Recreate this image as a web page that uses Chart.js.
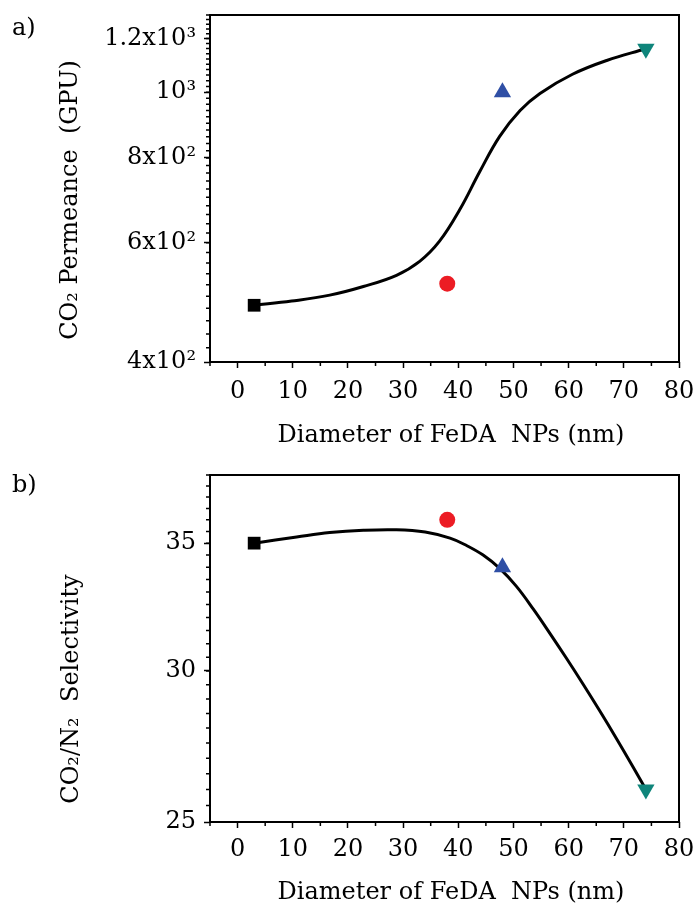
<!DOCTYPE html>
<html>
<head>
<meta charset="utf-8">
<script src="https://cdn.jsdelivr.net/npm/chart.js@4.4.0/dist/chart.umd.min.js"></script>
<style>
  html, body { margin: 0; padding: 0; background: #fff; }
  #wrap { position: relative; width: 698px; height: 903px; }
  canvas { position: absolute; left: 0; }
</style>
</head>
<body>
<div id="wrap">
  <canvas id="permCanvas" width="698" height="452" style="top:0"></canvas>
  <canvas id="selCanvas" width="698" height="451" style="top:452px"></canvas>
</div>
<script>
// measured samples (diameter in nm)
const diameters = [3, 38, 48, 74];
const permeance = [485, 522, 1000, 1159];
const selectivity = [35.0, 36.0, 34.0, 26.0];

// fitted guide curves
const permFitX = [3, 9.8, 16.7, 22.8, 28.8, 33.0, 36.6, 40.3, 43.9, 47.5, 51.2, 54.8, 60.7, 66.9, 74];
const permFitY = [485, 492, 502, 517, 537, 563, 603, 672, 764, 861, 940, 996, 1063, 1114, 1159];
const selFitX = [3, 10.7, 16.7, 22.8, 28.8, 34, 38.5, 41.5, 44.5, 47.5, 50.5, 53.6, 56.6, 59.6, 62.6, 65.6, 68.6, 71.7, 74];
const selFitY = [35.0, 35.26, 35.45, 35.55, 35.57, 35.47, 35.21, 34.90, 34.50, 33.95, 33.23, 32.32, 31.39, 30.46, 29.53, 28.60, 27.67, 26.71, 26.0];

// axis ticks
const xTicks = [0, 10, 20, 30, 40, 50, 60, 70, 80];
const xMinor = [-5, 5, 15, 25, 35, 45, 55, 65, 75];
const permTicks = [400, 600, 800, 1000, 1200];
const permTickLabels = ['4x10²', '6x10²', '8x10²', '10³', '1.2x10³'];
const selTicks = [25, 30, 35];
const selTickLabels = ['25', '30', '35'];

const permMinor = [];
for (let v = 420; v <= 1300; v += 20) permMinor.push(v);
const selMinor = [];
for (let v = 25.5; v <= 38; v += 0.5) selMinor.push(v);

const markerStyle = ['rect', 'circle', 'triangle', 'triangle'];
const markerRotation = [0, 0, 0, 180];
const markerColors = ['#000000', '#ec1c24', '#2f4fa5', '#0f857b'];
const markerRadius = [9, 8, 10, 10];

const FONT = '"DejaVu Serif", serif';

function toPoints(xs, ys) {
  return xs.map((x, i) => ({ x: x, y: ys[i] }));
}

function framePlugin(o) {
  return {
    id: 'frame',
    afterDraw(chart) {
      const ctx = chart.ctx;
      const a = chart.chartArea;
      const sx = chart.scales.x, sy = chart.scales.y;
      ctx.save();
      ctx.strokeStyle = '#000';
      ctx.lineWidth = 2;
      ctx.strokeRect(a.left, a.top, a.right - a.left, a.bottom - a.top);
      ctx.lineWidth = 1.5;
      ctx.beginPath();
      o.xMinor.forEach(v => {
        const x = sx.getPixelForValue(v);
        ctx.moveTo(x, a.bottom);
        ctx.lineTo(x, a.bottom + 4);
      });
      o.yMinor.forEach(v => {
        const y = sy.getPixelForValue(v);
        if (y < a.top - 0.5) return;
        ctx.moveTo(a.left, y);
        ctx.lineTo(a.left - 4, y);
      });
      ctx.stroke();

      ctx.fillStyle = '#000';
      ctx.font = '24px ' + FONT;
      ctx.textBaseline = 'alphabetic';
      ctx.textAlign = 'left';
      ctx.fillText(o.panel, 12, o.panelY);

      ctx.textAlign = 'center';
      ctx.fillText(o.xTitle, 451, o.xTitleY);

      ctx.translate(o.yTitleX, o.yTitleY);
      ctx.rotate(-Math.PI / 2);
      ctx.fillText(o.yTitle, 0, 0);
      ctx.restore();
    }
  };
}

function makeChart(id, cfg) {
  return new Chart(document.getElementById(id), {
    type: 'scatter',
    data: {
      datasets: [
        {
          data: toPoints(diameters, cfg.values),
          pointStyle: markerStyle,
          rotation: markerRotation,
          backgroundColor: markerColors,
          borderColor: markerColors,
          borderWidth: 0,
          pointRadius: markerRadius,
          pointHoverRadius: markerRadius,
          showLine: false
        },
        {
          data: toPoints(cfg.fitX, cfg.fitY),
          showLine: true,
          borderColor: '#000',
          borderWidth: 3,
          pointRadius: 0,
          tension: 0.4,
          fill: false
        }
      ]
    },
    options: {
      responsive: false,
      animation: false,
      devicePixelRatio: 1,
      layout: { padding: { left: 0, top: cfg.top, right: 19, bottom: 0 } },
      plugins: { legend: { display: false }, tooltip: { enabled: false } },
      scales: {
        x: {
          type: 'linear',
          min: -5,
          max: 80,
          border: { display: false },
          grid: { drawOnChartArea: false, drawTicks: true, tickLength: 6, tickColor: '#000', tickWidth: 1.5 },
          ticks: {
            color: '#000', font: { family: FONT, size: 24 }, padding: cfg.xPad,
            maxRotation: 0, autoSkip: false,
            callback: v => String(v)
          },
          afterBuildTicks: s => { s.ticks = xTicks.map(v => ({ value: v })); },
          afterFit: s => { s.height = cfg.xHeight; s.paddingLeft = 0; s.paddingRight = 0; }
        },
        y: {
          type: 'logarithmic',
          min: cfg.yMin,
          max: cfg.yMax,
          border: { display: false },
          grid: { drawOnChartArea: false, drawTicks: true, tickLength: 6, tickColor: '#000', tickWidth: 1.5 },
          ticks: {
            color: '#000', font: { family: FONT, size: 24 }, padding: 8, autoSkip: false,
            callback: v => {
              const i = cfg.ticks.indexOf(v);
              return i >= 0 ? cfg.tickLabels[i] : '';
            }
          },
          afterBuildTicks: s => { s.ticks = cfg.ticks.map(v => ({ value: v })); },
          afterFit: s => { s.width = 210; s.paddingTop = 0; s.paddingBottom = 0; }
        }
      }
    },
    plugins: [framePlugin(cfg.frame)]
  });
}

makeChart('permCanvas', {
  values: permeance, fitX: permFitX, fitY: permFitY,
  yMin: 400, yMax: 1300, ticks: permTicks, tickLabels: permTickLabels,
  top: 15, xHeight: 90, xPad: 9,
  frame: {
    xMinor: xMinor, yMinor: permMinor, panel: 'a)', panelY: 35,
    xTitle: 'Diameter of FeDA  NPs (nm)', xTitleY: 442,
    yTitle: 'CO₂ Permeance  (GPU)', yTitleX: 77, yTitleY: 200
  }
});

makeChart('selCanvas', {
  values: selectivity, fitX: selFitX, fitY: selFitY,
  yMin: 25, yMax: 38, ticks: selTicks, tickLabels: selTickLabels,
  top: 23, xHeight: 81, xPad: 7,
  frame: {
    xMinor: xMinor, yMinor: selMinor, panel: 'b)', panelY: 40,
    xTitle: 'Diameter of FeDA  NPs (nm)', xTitleY: 447,
    yTitle: 'CO₂/N₂  Selectivity', yTitleX: 78, yTitleY: 237
  }
});
</script>
</body>
</html>
